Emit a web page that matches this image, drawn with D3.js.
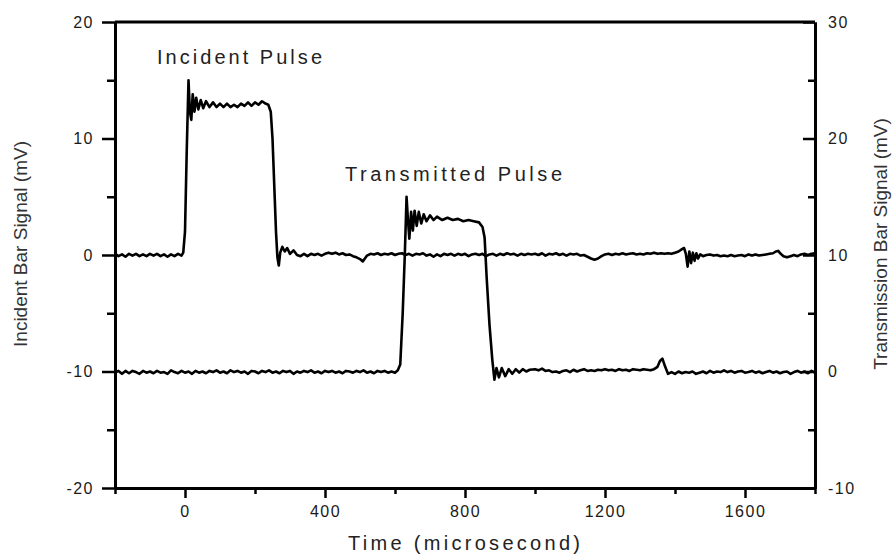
<!DOCTYPE html>
<html>
<head>
<meta charset="utf-8">
<script src="https://cdn.jsdelivr.net/npm/d3@7"></script>
<style>
  body { margin: 0; background: #fff; }
  text { font-family: "Liberation Sans", Arial, sans-serif; }
</style>
</head>
<body>
<div id="chart"></div>
<script>
// chart size and plot box
const width = 893,
  height = 556,
  margin = { top: 22, right: 78, bottom: 68, left: 115 };

// incident bar signal (left axis, mV)
const incidentTime = [
  -200, -190, -180, -170, -160, -150, -140, -130, -120, -110,
  -100, -90, -80, -70, -60, -50, -40, -30, -20, -10,
  -5, 0, 5, 10, 14, 18, 22, 27, 32, 38,
  45, 52, 60, 70, 80, 90, 100, 110, 120, 130,
  140, 150, 160, 170, 180, 190, 200, 210, 220, 230,
  238, 245, 250, 255, 260, 264, 268, 272, 278, 285,
  292, 300, 310, 320, 330, 340, 350, 360, 370, 380,
  390, 400, 410, 420, 430, 440, 450, 460, 470, 480,
  490, 500, 508, 514, 520, 530, 540, 550, 560, 570,
  580, 590, 600, 610, 620, 630, 640, 650, 660, 670,
  680, 690, 700, 710, 720, 730, 740, 750, 760, 770,
  780, 790, 800, 810, 820, 830, 840, 850, 860, 870,
  880, 890, 900, 910, 920, 930, 940, 950, 960, 970,
  980, 990, 1000, 1010, 1020, 1030, 1040, 1050, 1060, 1070,
  1080, 1090, 1100, 1110, 1120, 1130, 1140, 1150, 1160, 1170,
  1180, 1190, 1200, 1210, 1220, 1230, 1240, 1250, 1260, 1270,
  1280, 1290, 1300, 1310, 1320, 1330, 1340, 1350, 1360, 1370,
  1380, 1390, 1400, 1410, 1420, 1426, 1431, 1436, 1441, 1446,
  1451, 1456, 1461, 1466, 1472, 1480, 1490, 1500, 1510, 1520,
  1530, 1540, 1550, 1560, 1570, 1580, 1590, 1600, 1610, 1620,
  1630, 1640, 1650, 1660, 1670, 1680, 1688, 1695, 1702, 1710,
  1720, 1730, 1740, 1750, 1760, 1770, 1780, 1790, 1800
];
const incidentSignal = [
  0.1, -0.1, 0.05, -0.15, 0.1, -0.05, 0.1, -0.1, 0.05, -0.1,
  0.1, -0.05, 0.1, -0.1, 0.05, -0.15, 0.05, -0.1, 0.1, -0.05,
  0.2, 2, 9, 15, 12.3, 11.6, 13.8, 12.3, 13.5, 12.5,
  13.3, 12.6, 13.2, 12.7, 13.1, 12.7, 13.0, 12.7, 13.0, 12.7,
  12.9, 12.7, 13.0, 12.8, 13.1, 12.8, 13.1, 12.9, 13.2, 13.0,
  12.9, 12.3, 10, 6, 2, -0.2, -0.9, 0.2, 0.7, 0.3,
  0.6, 0.1, 0.4, 0, -0.1, 0.1, -0.1, 0.1, 0, 0.1,
  -0.05, 0.1, 0.2, 0.1, 0.2, 0.05, 0.15, 0, 0.05, -0.1,
  -0.2, -0.35, -0.55, -0.3, -0.05, 0.1, 0.05, 0.15, 0, 0.1,
  0.05, 0.15, 0, 0.1, 0.15, 0, 0.1, -0.05, 0.1, 0.05,
  0.15, -0.05, 0.05, -0.15, 0.05, -0.1, 0.1, 0, 0.1, -0.05,
  0.1, 0, 0.1, -0.1, 0.05, 0.1, 0, 0.1, -0.1, 0.05,
  0.1, -0.05, 0.1, 0, 0.15, 0.05, 0.1, -0.05, 0.1, 0,
  0.1, 0.05, 0.1, 0, 0.15, -0.05, 0.1, 0.05, 0.15, 0,
  0.1, -0.05, 0.1, 0.05, 0.1, -0.05, 0, -0.15, -0.3, -0.4,
  -0.3, -0.1, 0.05, 0.1, 0, 0.1, 0.05, 0.15, 0.05, 0.1,
  0.15, 0.05, 0.1, 0.05, 0.15, 0.1, 0.2, 0.1, 0.15, 0.1,
  0.15, 0.1, 0.2, 0.3, 0.5, 0.6, 0.1, -1.0, 0.3, -0.7,
  0.2, -0.5, 0.15, -0.3, 0.05, -0.1, 0, 0.05, -0.05, 0,
  -0.1, -0.05, -0.1, 0, -0.1, -0.05, 0, -0.1, 0.05, -0.05,
  0.05, -0.05, 0, 0.05, 0.1, 0.15, 0.3, 0.35, 0.1, -0.1,
  -0.2, -0.1, 0, -0.1, 0.05, 0.1, 0, 0.1, 0.15
];

// transmission bar signal (right axis, mV)
const transmittedTime = [
  -200, -190, -180, -170, -160, -150, -140, -130, -120, -110,
  -100, -90, -80, -70, -60, -50, -40, -30, -20, -10,
  0, 10, 20, 30, 40, 50, 60, 70, 80, 90,
  100, 110, 120, 130, 140, 150, 160, 170, 180, 190,
  200, 210, 220, 230, 240, 250, 260, 270, 280, 290,
  300, 310, 320, 330, 340, 350, 360, 370, 380, 390,
  400, 410, 420, 430, 440, 450, 460, 470, 480, 490,
  500, 510, 520, 530, 540, 550, 560, 570, 580, 590,
  600, 608, 615, 622, 628, 633, 637, 641, 646, 651,
  656, 662, 668, 675, 682, 690, 700, 710, 720, 735,
  750, 765, 780, 795, 810, 825, 840, 850, 856, 862,
  870, 878, 884, 890, 897, 905, 915, 925, 935, 945,
  955, 965, 975, 985, 1000, 1010, 1020, 1030, 1040, 1050,
  1060, 1070, 1080, 1090, 1100, 1110, 1120, 1130, 1140, 1150,
  1160, 1170, 1180, 1190, 1200, 1210, 1220, 1230, 1240, 1250,
  1260, 1270, 1280, 1290, 1300, 1310, 1320, 1330, 1340, 1350,
  1357, 1364, 1372, 1380, 1390, 1400, 1410, 1420, 1430, 1440,
  1450, 1460, 1470, 1480, 1490, 1500, 1510, 1520, 1530, 1540,
  1550, 1560, 1570, 1580, 1590, 1600, 1610, 1620, 1630, 1640,
  1650, 1660, 1670, 1680, 1690, 1700, 1710, 1720, 1730, 1740,
  1750, 1760, 1770, 1780, 1790, 1800
];
const transmittedSignal = [
  -0.1, 0.05, -0.2, 0.05, -0.15, 0.05, -0.05, -0.2, 0.05, -0.1,
  0, -0.15, 0.05, -0.1, -0.05, -0.2, 0.1, -0.05, -0.15, 0.05,
  -0.1, 0, -0.2, 0.05, -0.1, 0, -0.15, 0.05, -0.05, 0.1,
  -0.1, 0, -0.15, 0.1, -0.05, 0.05, -0.1, 0, -0.2, 0.05,
  0, -0.15, 0.05, -0.05, 0.1, -0.1, 0, -0.15, 0.05, -0.05,
  0.05, -0.2, 0, -0.1, 0.05, -0.05, 0.1, -0.1, 0, -0.15,
  0.05, -0.05, 0.05, -0.1, 0, -0.15, 0.05, 0, -0.1, 0.05,
  -0.05, 0.1, -0.1, 0, -0.15, 0.05, -0.05, 0.05, -0.1, 0,
  -0.1, 0.1, 0.6, 5, 10, 15, 13, 11.4, 13.7, 12.1,
  13.8, 12.5, 13.7, 12.7, 13.5, 12.9, 13.4, 13.0, 13.3, 13.0,
  13.2, 13.0, 13.1, 12.9, 13.0, 12.9, 12.8, 12.4, 11.5, 8,
  4, 1, -0.7, 0.3, -0.5, 0.3, -0.4, 0.2, -0.2, 0.2,
  -0.1, 0.2, 0, 0.15, 0.2, 0.1, 0.25, 0.05, 0.1, -0.05,
  0, -0.1, 0.05, 0.1, -0.05, 0.15, 0, 0.1, 0.2, 0.05,
  0.1, 0.05, 0.15, 0.1, 0.2, 0.1, 0.15, 0.05, 0.2, 0.1,
  0.15, 0.05, 0.2, 0.15, 0.1, 0.2, 0.15, 0.1, 0.2, 0.4,
  0.9, 1.1, 0.4, -0.2, -0.05, -0.2, 0, -0.15, -0.05, -0.1,
  0, -0.2, -0.1, 0, -0.15, 0.05, -0.1, 0, -0.05, 0.1,
  -0.05, 0.05, -0.1, 0, 0.05, -0.1, -0.05, 0.05, -0.1, 0,
  -0.15, -0.05, 0.05, -0.1, 0, -0.15, -0.05, 0, -0.2, -0.05,
  0.05, -0.1, 0, -0.15, 0.05, -0.1
];

// axis ticks
const xTicks = [0, 400, 800, 1200, 1600];
const xMinorTicks = [-200, 200, 600, 1000, 1400, 1800];
const leftTicks = [-20, -10, 0, 10, 20];
const leftMinorTicks = [-15, -5, 5, 15];
const rightTicks = [-10, 0, 10, 20, 30];
const rightMinorTicks = [-5, 5, 15, 25];

const svg = d3.select("#chart")
  .append("svg")
  .attr("width", width)
  .attr("height", height);

const x = d3.scaleLinear()
  .domain([-200, 1800])
  .range([margin.left, width - margin.right]);

const yLeft = d3.scaleLinear()
  .domain([-20, 20])
  .range([height - margin.bottom, margin.top]);

const yRight = d3.scaleLinear()
  .domain([-10, 30])
  .range([height - margin.bottom, margin.top]);

const incidentData = incidentTime.map((t, i) => ({ t: t, v: incidentSignal[i] }));
const transmittedData = transmittedTime.map((t, i) => ({ t: t, v: transmittedSignal[i] }));

const lineLeft = d3.line().x(d => x(d.t)).y(d => yLeft(d.v));
const lineRight = d3.line().x(d => x(d.t)).y(d => yRight(d.v));

svg.append("path")
  .datum(transmittedData)
  .attr("fill", "none")
  .attr("stroke", "#000")
  .attr("stroke-width", 2.6)
  .attr("stroke-linejoin", "round")
  .attr("d", lineRight);

svg.append("path")
  .datum(incidentData)
  .attr("fill", "none")
  .attr("stroke", "#000")
  .attr("stroke-width", 2.6)
  .attr("stroke-linejoin", "round")
  .attr("d", lineLeft);

// axes
const plain = d => String(d);

function styleAxis(g) {
  g.select(".domain").attr("stroke", "#000").attr("stroke-width", 3);
  g.selectAll(".tick line").attr("stroke", "#000").attr("stroke-width", 2.5);
  g.selectAll(".tick text")
    .attr("fill", "#1a1a1a")
    .style("font-size", "16px")
    .style("letter-spacing", "1.5px");
}

// top border
svg.append("line")
  .attr("x1", x(-200)).attr("x2", x(1800))
  .attr("y1", yLeft(20)).attr("y2", yLeft(20))
  .attr("stroke", "#000").attr("stroke-width", 3);

svg.append("g")
  .attr("transform", `translate(0,${height - margin.bottom})`)
  .call(d3.axisBottom(x).tickValues(xMinorTicks).tickSize(6).tickFormat("").tickSizeOuter(0))
  .call(styleAxis);

svg.append("g")
  .attr("transform", `translate(0,${height - margin.bottom})`)
  .call(d3.axisBottom(x).tickValues(xTicks).tickSize(10).tickPadding(8).tickSizeOuter(0).tickFormat(plain))
  .call(styleAxis);

svg.append("g")
  .attr("transform", `translate(${margin.left},0)`)
  .call(d3.axisLeft(yLeft).tickValues(leftMinorTicks).tickSize(8).tickFormat("").tickSizeOuter(0))
  .call(styleAxis);

svg.append("g")
  .attr("transform", `translate(${margin.left},0)`)
  .call(d3.axisLeft(yLeft).tickValues(leftTicks).tickSize(13).tickPadding(8).tickSizeOuter(0).tickFormat(plain))
  .call(styleAxis);

svg.append("g")
  .attr("transform", `translate(${width - margin.right},0)`)
  .call(d3.axisRight(yRight).tickValues(rightMinorTicks).tickSize(-7).tickFormat("").tickSizeOuter(0))
  .call(styleAxis);

svg.append("g")
  .attr("transform", `translate(${width - margin.right},0)`)
  .call(d3.axisRight(yRight).tickValues(rightTicks).tickSize(-12).tickPadding(13).tickSizeOuter(0).tickFormat(plain))
  .call(styleAxis);

// titles and annotations
svg.append("text")
  .attr("x", 348).attr("y", 550)
  .attr("textLength", 232).attr("lengthAdjust", "spacing")
  .attr("fill", "#222")
  .style("font-size", "20px")
  .text("Time (microsecond)");

svg.append("text")
  .attr("transform", "translate(27,244) rotate(-90)")
  .attr("text-anchor", "middle")
  .attr("fill", "#333")
  .style("font-size", "19px")
  .text("Incident Bar Signal (mV)");

svg.append("text")
  .attr("transform", "translate(887,244) rotate(-90)")
  .attr("text-anchor", "middle")
  .attr("fill", "#333")
  .style("font-size", "19px")
  .text("Transmission Bar Signal (mV)");

svg.append("text")
  .attr("x", 157).attr("y", 64)
  .attr("textLength", 165).attr("lengthAdjust", "spacing")
  .attr("fill", "#222")
  .style("font-size", "20px")
  .text("Incident Pulse");

svg.append("text")
  .attr("x", 345).attr("y", 181)
  .attr("textLength", 217).attr("lengthAdjust", "spacing")
  .attr("fill", "#222")
  .style("font-size", "20px")
  .text("Transmitted Pulse");
</script>
</body>
</html>
